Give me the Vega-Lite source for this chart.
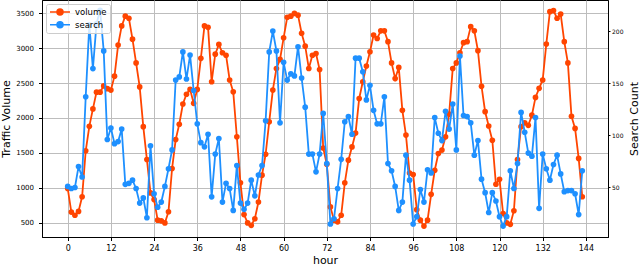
{
"$schema": "https://vega.github.io/schema/vega-lite/v6.json",
"width": 566, "height": 237,
"autosize": {"type": "none"},
"padding": {"left": 42, "top": 0, "right": 32, "bottom": 30},
"background": "white",
"config": {
  "font": "DejaVu Sans",
  "view": {"stroke": "black", "strokeWidth": 1},
  "axis": {"domainColor": "black", "tickColor": "black", "labelColor": "black", "titleColor": "black", "titleFontWeight": "normal", "gridColor": "#bdbdbd", "gridWidth": 1, "labelFont": "DejaVu Sans", "titleFont": "DejaVu Sans"}
},
"data": {"values": [
{"hour":0,"volume":990,"search":51},{"hour":1,"volume":650,"search":49},{"hour":2,"volume":605,"search":50},{"hour":3,"volume":660,"search":70},{"hour":4,"volume":870,"search":60},{"hour":5,"volume":1530,"search":137},{"hour":6,"volume":1880,"search":206},{"hour":7,"volume":2130,"search":164},{"hour":8,"volume":2370,"search":207},{"hour":9,"volume":2370,"search":220},
{"hour":10,"volume":2460,"search":181},{"hour":11,"volume":2420,"search":96},{"hour":12,"volume":2400,"search":107},{"hour":13,"volume":2600,"search":92},{"hour":14,"volume":3045,"search":94},{"hour":15,"volume":3320,"search":106},{"hour":16,"volume":3460,"search":53},{"hour":17,"volume":3430,"search":54},{"hour":18,"volume":3130,"search":57},{"hour":19,"volume":2790,"search":49},
{"hour":20,"volume":2445,"search":35},{"hour":21,"volume":1875,"search":40},{"hour":22,"volume":1405,"search":21},{"hour":23,"volume":925,"search":90},{"hour":24,"volume":830,"search":44},{"hour":25,"volume":535,"search":31},{"hour":26,"volume":525,"search":36},{"hour":27,"volume":495,"search":51},{"hour":28,"volume":655,"search":68},{"hour":29,"volume":1275,"search":86},
{"hour":30,"volume":1690,"search":153},{"hour":31,"volume":1910,"search":156},{"hour":32,"volume":2200,"search":180},{"hour":33,"volume":2340,"search":154},{"hour":34,"volume":2410,"search":177},{"hour":35,"volume":2210,"search":143},{"hour":36,"volume":2410,"search":111},{"hour":37,"volume":2855,"search":93},{"hour":38,"volume":3320,"search":89},{"hour":39,"volume":3300,"search":101},
{"hour":40,"volume":2520,"search":41},{"hour":41,"volume":2915,"search":82},{"hour":42,"volume":3055,"search":97},{"hour":43,"volume":2935,"search":36},{"hour":44,"volume":2900,"search":54},{"hour":45,"volume":2545,"search":49},{"hour":46,"volume":2375,"search":28},{"hour":47,"volume":1730,"search":71},{"hour":48,"volume":1070,"search":35},{"hour":49,"volume":615,"search":29},
{"hour":50,"volume":495,"search":35},{"hour":51,"volume":460,"search":57},{"hour":52,"volume":555,"search":42},{"hour":53,"volume":795,"search":62},{"hour":54,"volume":1180,"search":71},{"hour":55,"volume":1480,"search":114},{"hour":56,"volume":1945,"search":180},{"hour":57,"volume":2400,"search":200},{"hour":58,"volume":2710,"search":181},{"hour":59,"volume":2840,"search":112},
{"hour":60,"volume":3150,"search":170},{"hour":61,"volume":3445,"search":153},{"hour":62,"volume":3460,"search":159},{"hour":63,"volume":3500,"search":157},{"hour":64,"volume":3475,"search":185},{"hour":65,"volume":3215,"search":155},{"hour":66,"volume":3030,"search":127},{"hour":67,"volume":2710,"search":82},{"hour":68,"volume":2900,"search":82},{"hour":69,"volume":2925,"search":65},
{"hour":70,"volume":2695,"search":82},{"hour":71,"volume":1570,"search":121},{"hour":72,"volume":1335,"search":73},{"hour":73,"volume":725,"search":15},{"hour":74,"volume":535,"search":20},{"hour":75,"volume":510,"search":49},{"hour":76,"volume":605,"search":77},{"hour":77,"volume":1070,"search":113},{"hour":78,"volume":1395,"search":118},{"hour":79,"volume":1585,"search":101},
{"hour":80,"volume":1785,"search":174},{"hour":81,"volume":2280,"search":174},{"hour":82,"volume":2520,"search":161},{"hour":83,"volume":2745,"search":134},{"hour":84,"volume":2950,"search":148},{"hour":85,"volume":3190,"search":124},{"hour":86,"volume":3140,"search":111},{"hour":87,"volume":3250,"search":111},{"hour":88,"volume":3250,"search":137},{"hour":89,"volume":3095,"search":73},
{"hour":90,"volume":2790,"search":66},{"hour":91,"volume":2565,"search":51},{"hour":92,"volume":2725,"search":28},{"hour":93,"volume":2110,"search":36},{"hour":94,"volume":1755,"search":81},{"hour":95,"volume":1210,"search":57},{"hour":96,"volume":1190,"search":15},{"hour":97,"volume":685,"search":22},{"hour":98,"volume":535,"search":48},{"hour":99,"volume":450,"search":36},
{"hour":100,"volume":535,"search":67},{"hour":101,"volume":905,"search":64},{"hour":102,"volume":1250,"search":117},{"hour":103,"volume":1490,"search":102},{"hour":104,"volume":1540,"search":95},{"hour":105,"volume":1730,"search":123},{"hour":106,"volume":2055,"search":106},{"hour":107,"volume":2710,"search":130},{"hour":108,"volume":2790,"search":86},{"hour":109,"volume":2935,"search":176},
{"hour":110,"volume":3080,"search":119},{"hour":111,"volume":3095,"search":118},{"hour":112,"volume":3310,"search":112},{"hour":113,"volume":3250,"search":81},{"hour":114,"volume":2965,"search":95},{"hour":115,"volume":2455,"search":58},{"hour":116,"volume":2090,"search":45},{"hour":117,"volume":1885,"search":26},{"hour":118,"volume":1680,"search":45},{"hour":119,"volume":1050,"search":37},
{"hour":120,"volume":1120,"search":22},{"hour":121,"volume":630,"search":13},{"hour":122,"volume":495,"search":22},{"hour":123,"volume":475,"search":66},{"hour":124,"volume":670,"search":49},{"hour":125,"volume":1405,"search":73},{"hour":126,"volume":1875,"search":122},{"hour":127,"volume":1930,"search":103},{"hour":128,"volume":1895,"search":83},{"hour":129,"volume":2040,"search":80},
{"hour":130,"volume":2295,"search":117},{"hour":131,"volume":2425,"search":30},{"hour":132,"volume":2545,"search":82},{"hour":133,"volume":3060,"search":68},{"hour":134,"volume":3525,"search":57},{"hour":135,"volume":3540,"search":72},{"hour":136,"volume":3430,"search":81},{"hour":137,"volume":3490,"search":63},{"hour":138,"volume":3095,"search":46},{"hour":139,"volume":2790,"search":47},
{"hour":140,"volume":2025,"search":47},{"hour":141,"volume":1850,"search":44},{"hour":142,"volume":1420,"search":24},{"hour":143,"volume":870,"search":66}
]},
"layer": [
  {
    "mark": {"type": "line", "strokeWidth": 1.8, "point": {"filled": true, "size": 32}},
    "encoding": {
      "x": {"field": "hour", "type": "quantitative",
        "scale": {"domain": [-7.15, 150.15], "nice": false, "zero": false},
        "axis": {"values": [0,12,24,36,48,60,72,84,96,108,120,132,144], "title": "hour", "labelFontSize": 8, "tickSize": 3.5, "labelPadding": 4, "titleFontSize": 11, "titleY": 26.5, "titleBaseline": "alphabetic", "grid": true, "labelFlush": false}},
      "y": {"field": "volume", "type": "quantitative",
        "scale": {"domain": [293, 3692], "nice": false, "zero": false},
        "axis": {"orient": "left", "values": [500,1000,1500,2000,2500,3000,3500], "format": "d", "title": "Traffic Volume", "labelFontSize": 7, "tickSize": 3.5, "labelPadding": 5, "titleFontSize": 11, "titleX": -36, "titleY": 118.5, "titleBaseline": "middle", "grid": true}},
      "color": {"datum": "volume", "type": "nominal",
        "scale": {"domain": ["volume", "search"], "range": ["#FF4500", "#1E90FF"]},
        "legend": {"title": null, "orient": "none", "legendX": 4, "legendY": 4, "padding": 3,
          "symbolType": "M-1,0H1M0.3,0A0.3,0.3,0,1,1,-0.3,0A0.3,0.3,0,1,1,0.3,0Z",
          "symbolSize": 400, "symbolStrokeWidth": 1.5, "clipHeight": 10, "rowPadding": 2.7, "labelOffset": 4,
          "labelFontSize": 8.5, "labelFont": "DejaVu Sans", "labelColor": "black",
          "fillColor": "rgba(255,255,255,0.8)", "strokeColor": "#cccccc", "cornerRadius": 2,
          "encode": {"symbols": {"update": {"fill": {"scale": "color", "field": "value"}, "opacity": {"value": 1}}}}}}
    }
  },
  {
    "mark": {"type": "line", "strokeWidth": 1.8, "point": {"filled": true, "size": 32}},
    "encoding": {
      "x": {"field": "hour", "type": "quantitative"},
      "y": {"field": "search", "type": "quantitative",
        "scale": {"domain": [2.5, 229.8], "nice": false, "zero": false},
        "axis": {"orient": "right", "values": [50,100,150,200], "title": "Search Count", "labelFontSize": 6, "tickSize": 2, "labelPadding": 1.5, "titleFontSize": 11, "titleAngle": 270, "titleX": 26, "titleY": 118.5, "titleBaseline": "middle", "grid": false}},
      "color": {"datum": "search", "type": "nominal"}
    }
  }
],
"resolve": {"scale": {"y": "independent"}}
}
